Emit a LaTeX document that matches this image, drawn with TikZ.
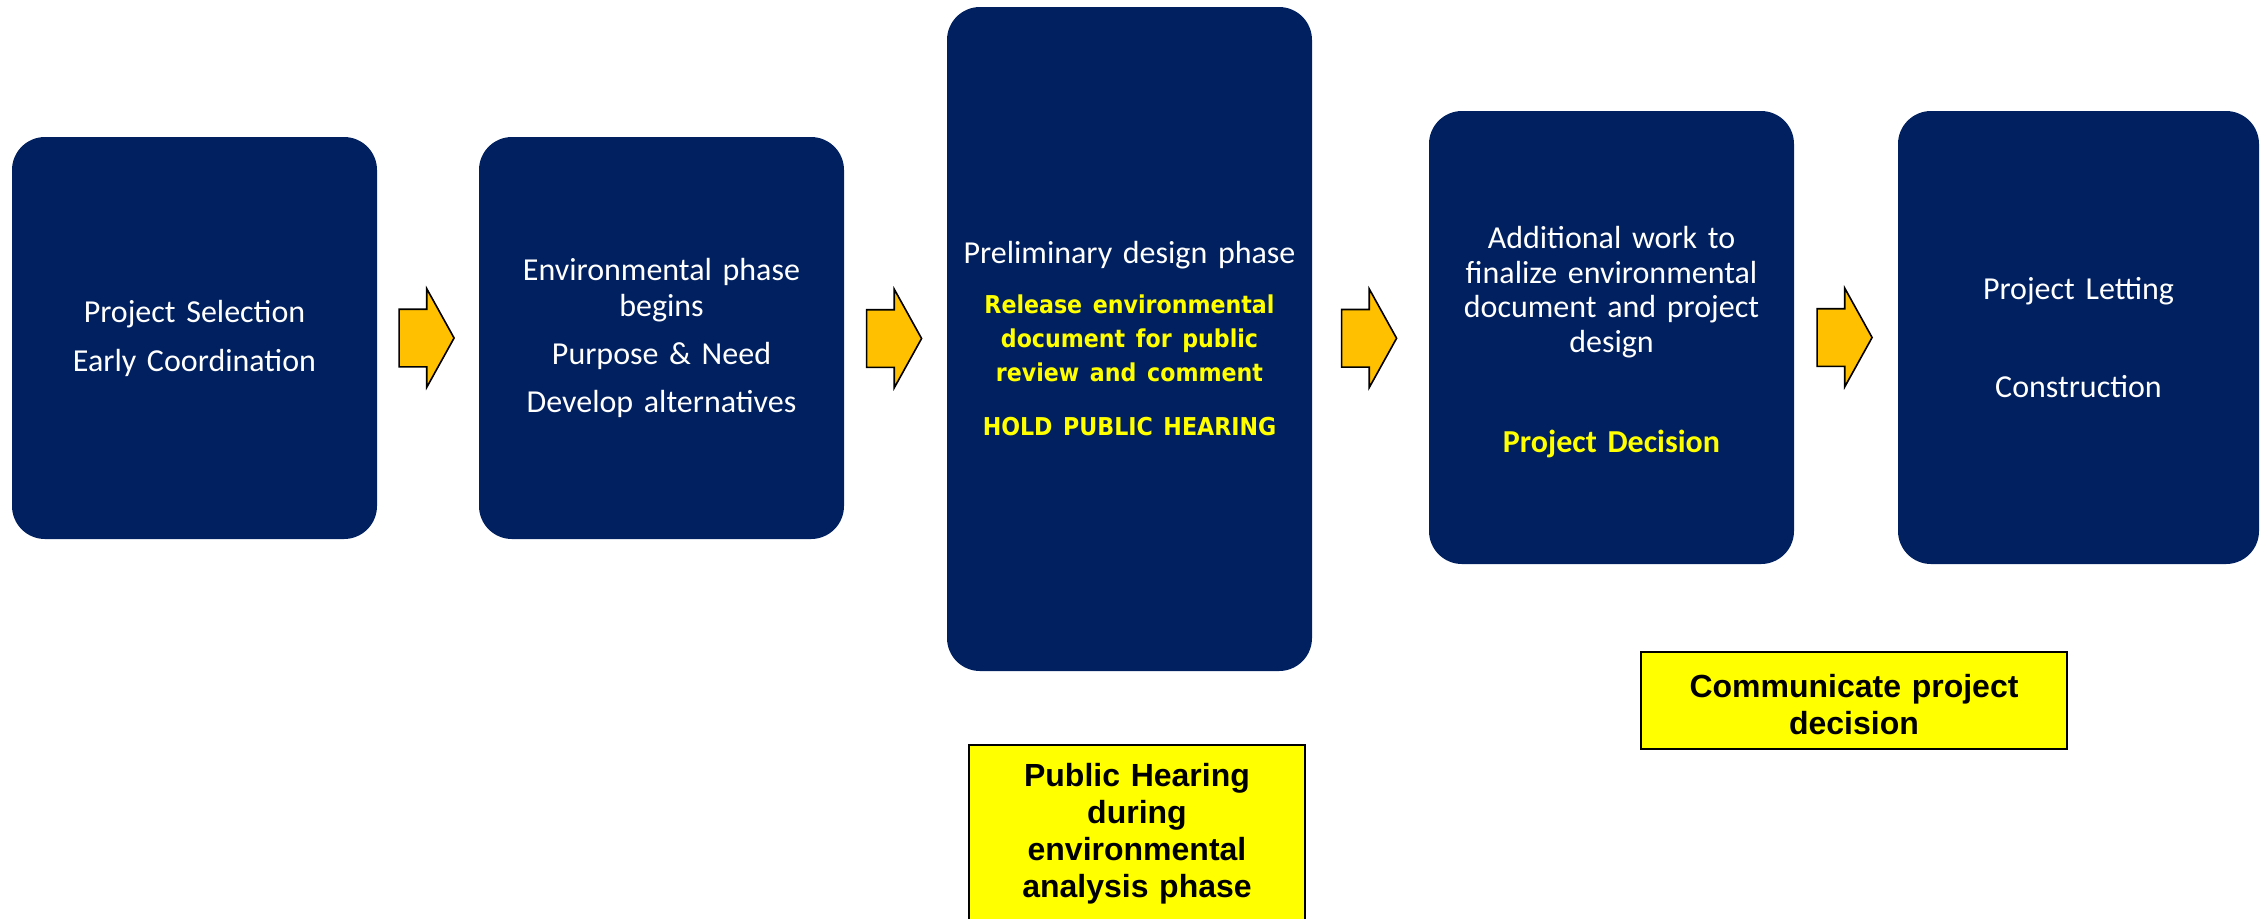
\documentclass[tikz,border=0pt]{standalone}
\usepackage{fontspec}
\setmainfont{Carlito}
\newfontfamily\dejavu{DejaVu Sans Condensed}
\newfontfamily\arialfont{Liberation Sans}
\usetikzlibrary{shapes.arrows}

\definecolor{navy}{RGB}{0,32,96}
\definecolor{gold}{RGB}{255,192,0}
\definecolor{hiyellow}{RGB}{255,255,0}

\begin{document}
\begin{tikzpicture}[x=0.5pt,y=-0.5pt]

      \useasboundingbox (0,0) rectangle (2261,918);
      \clip (0,0) rectangle (2261,918);

      \begin{scope}[every node/.style={fill=navy, rounded corners=16.5pt, text=white, align=center,
          minimum width=182.5pt, text width=175pt, inner sep=0pt, font=\fontsize{16}{18}\selectfont}]
        \node[minimum height=201pt] (1) at (194.5,338)
          {Project Selection\\[6.5pt]Early Coordination};
        \node[minimum height=201pt] (2) at (661.5,338)
          {Environmental phase\\begins\\[6pt]Purpose \& Need\\[6pt]Develop alternatives};
        \node[minimum height=332pt] (3) at (1129.5,339)
          {Preliminary design phase\par\vspace{8pt}
           {\dejavu\bfseries\fontsize{12.3}{17}\selectfont\color{hiyellow}
            Release environmental\\document for public\\review and comment\par}\vspace{10pt}
           {\dejavu\bfseries\fontsize{12.3}{17}\selectfont\color{hiyellow}
            HOLD PUBLIC HEARING\par}};
        \node[minimum height=226.5pt] (4) at (1611.5,337.5)
          {{\fontsize{16}{17.3}\selectfont\rule{0pt}{15.5pt}Additional work to\\finalize environmental\\document and project\\design\par}
           \vspace{32pt}
           {\bfseries\color{hiyellow}Project Decision\par}};
        \node[minimum height=226.5pt, minimum width=180.5pt] (5) at (2078.5,337.5)
          {Project Letting\\[31pt]Construction};
      \end{scope}

      \begin{scope}[every node/.style={single arrow, draw=black, fill=gold, line width=0.8pt,
          minimum height=27.5pt, inner xsep=0pt, inner ysep=14pt, single arrow head extend=10.25pt,
          single arrow tip angle=122, xshift=-4.7pt},
          every edge/.style={draw=none}]
        \path (1) edge node {} (2);
        \path (2) edge node {} (3);
        \path (3) edge node {} (4);
        \path (4) edge node {} (5);
      \end{scope}

      \begin{scope}[every node/.style={fill=hiyellow, draw=black, line width=1.2pt, align=center,
          inner sep=0pt, font=\arialfont\bfseries\fontsize{16}{18.5}\selectfont}]
        \node[minimum width=168pt, minimum height=88.5pt, text width=160pt] (6) at (1137,833.5)
          {Public Hearing\\during\\environmental\\analysis phase};
        \node[minimum width=213pt, minimum height=48.5pt, text width=205pt] (7) at (1854,700.5)
          {\rule{0pt}{16pt}Communicate project\\decision};
      \end{scope}

    \end{tikzpicture}
\end{document}
